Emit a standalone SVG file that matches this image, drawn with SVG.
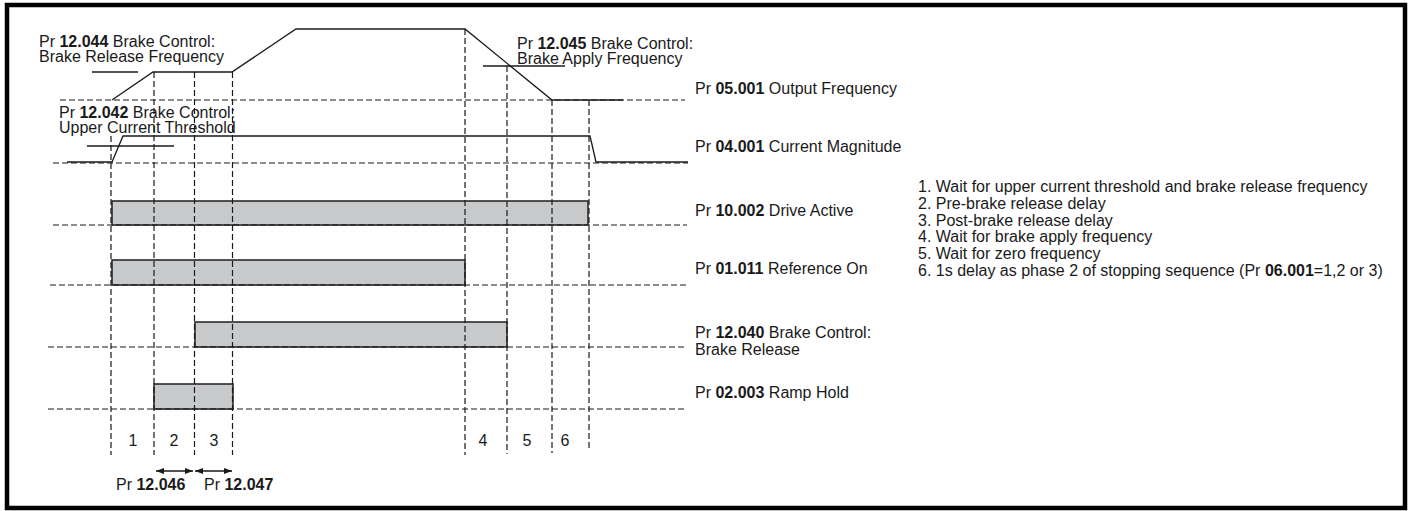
<svg xmlns="http://www.w3.org/2000/svg" width="1411" height="511" viewBox="0 0 1411 511">
<style>
text{font-family:"Liberation Sans",Arial,sans-serif;font-size:16px;fill:#1a1a1a}
.b{font-weight:bold}
.d{stroke:#1a1a1a;stroke-width:1.2;stroke-dasharray:6 3;fill:none}
.s{stroke:#1a1a1a;stroke-width:1.3;fill:none}
.bar{fill:#c8c9ca;stroke:#2a2a2a;stroke-width:1.6}
</style>
<defs>
<marker id="ah" viewBox="0 0 8 6" refX="8" refY="3" markerWidth="8" markerHeight="6" markerUnits="userSpaceOnUse" orient="auto-start-reverse">
<path d="M0,0 L8,3 L0,6 Z" fill="#1a1a1a"/>
</marker>
</defs>
<rect x="7" y="5" width="1398" height="503" fill="#fff" stroke="#000" stroke-width="4.5"/>
<g id="bars">
<rect id="drive-active-bar" class="bar" x="112" y="201" width="476" height="24"/>
<rect id="reference-on-bar" class="bar" x="112" y="260" width="353" height="25"/>
<rect id="brake-release-bar" class="bar" x="195" y="322" width="312" height="25"/>
<rect id="ramp-hold-bar" class="bar" x="154" y="384" width="79" height="25"/>
</g>
<g id="connectors">
<line class="d" x1="60" y1="100" x2="685" y2="100"/>
<line class="d" x1="53" y1="163" x2="688" y2="163"/>
<line class="d" x1="53" y1="225" x2="687" y2="225"/>
<line class="d" x1="50" y1="285" x2="687" y2="285"/>
<line class="d" x1="48" y1="347" x2="685" y2="347"/>
<line class="d" x1="48" y1="409" x2="685" y2="409"/>
<line class="d" x1="111" y1="136" x2="111" y2="455"/>
<line class="d" x1="154" y1="72" x2="154" y2="455"/>
<line class="d" x1="194.5" y1="72" x2="194.5" y2="455"/>
<line class="d" x1="232.5" y1="72" x2="232.5" y2="455"/>
<line class="d" x1="465" y1="29" x2="465" y2="455"/>
<line class="d" x1="507" y1="66" x2="507" y2="454"/>
<line class="d" x1="552" y1="100" x2="552" y2="453"/>
<line class="d" x1="589" y1="100" x2="589" y2="451"/>
<polyline id="output-frequency" class="s" points="112,100 153,72 232,72 296,29 465,29 552,100 623,100"/>
<polyline id="current-magnitude" class="s" points="67,162 112,162 123,136 590,136 596,162 688,162"/>
<line class="s" x1="92" y1="72" x2="138" y2="72"/>
<line class="s" x1="87" y1="146" x2="174" y2="146"/>
<line class="s" x1="483" y1="66" x2="565" y2="66"/>
<line class="s" x1="156" y1="471" x2="193" y2="471" marker-start="url(#ah)" marker-end="url(#ah)"/>
<line class="s" x1="195" y1="471" x2="232" y2="471" marker-start="url(#ah)" marker-end="url(#ah)"/>
</g>
<g id="label-12044"><text x="39" y="47">Pr <tspan class="b">12.044</tspan> Brake Control:</text><text x="39" y="62">Brake Release Frequency</text></g>
<g id="label-12042"><text x="59" y="118">Pr <tspan class="b">12.042</tspan> Brake Control:</text><text x="59" y="133">Upper Current Threshold</text></g>
<g id="label-12045"><text x="517" y="49">Pr <tspan class="b">12.045</tspan> Brake Control:</text><text x="517" y="64">Brake Apply Frequency</text></g>
<g id="label-05001"><text x="695" y="94">Pr <tspan class="b">05.001</tspan> Output Frequency</text></g>
<g id="label-04001"><text x="695" y="152">Pr <tspan class="b">04.001</tspan> Current Magnitude</text></g>
<g id="label-10002"><text x="695" y="216">Pr <tspan class="b">10.002</tspan> Drive Active</text></g>
<g id="label-01011"><text x="695" y="274">Pr <tspan class="b">01.011</tspan> Reference On</text></g>
<g id="label-12040"><text x="695" y="338">Pr <tspan class="b">12.040</tspan> Brake Control:</text><text x="695" y="355">Brake Release</text></g>
<g id="label-02003"><text x="695" y="398">Pr <tspan class="b">02.003</tspan> Ramp Hold</text></g>
<g id="phase-numbers">
<text x="133" y="446" text-anchor="middle">1</text>
<text x="174" y="446" text-anchor="middle">2</text>
<text x="214" y="446" text-anchor="middle">3</text>
<text x="483" y="446" text-anchor="middle">4</text>
<text x="527" y="446" text-anchor="middle">5</text>
<text x="565" y="446" text-anchor="middle">6</text>
</g>
<g id="label-12046"><text x="116" y="490">Pr <tspan class="b">12.046</tspan></text></g>
<g id="label-12047"><text x="204" y="490">Pr <tspan class="b">12.047</tspan></text></g>
<g id="legend">
<text x="918" y="192">1. Wait for upper current threshold and brake release frequency</text>
<text x="918" y="208.8">2. Pre-brake release delay</text>
<text x="918" y="225.6">3. Post-brake release delay</text>
<text x="918" y="242.4">4. Wait for brake apply frequency</text>
<text x="918" y="259.2">5. Wait for zero frequency</text>
<text x="918" y="276">6. 1s delay as phase 2 of stopping sequence (Pr <tspan class="b">06.001</tspan>=1,2 or 3)</text>
</g>
</svg>
